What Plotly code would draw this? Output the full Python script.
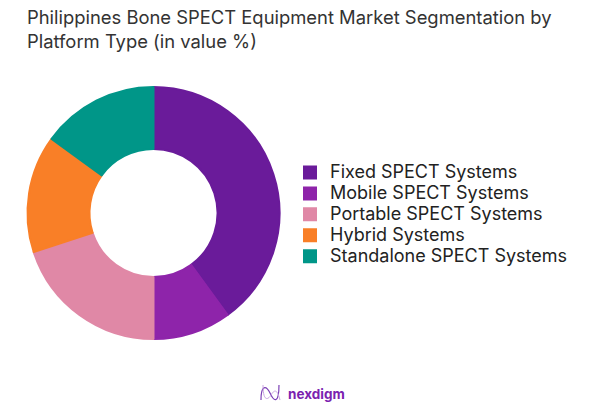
import plotly.graph_objects as go

labels = ["Fixed SPECT Systems", "Mobile SPECT Systems", "Portable SPECT Systems", "Hybrid Systems", "Standalone SPECT Systems"]
values = [40, 10, 20, 15, 15]
colors = ["#6A1B9A", "#8E24AA", "#E088A6", "#F97F27", "#009688"]
title = "Philippines Bone SPECT Equipment Market Segmentation by<br>Platform Type (in value %)"
W, H = 594, 414
OFF = 8  # page margin of the browser

def px(x):
    return (x - OFF) / W

def py(y):
    return 1 - (y - OFF) / H

def logo_path(points):
    (x0, y0), *rest = points
    d = f"M{px(x0):.4f},{py(y0):.4f}"
    for i in range(0, len(rest), 3):
        d += " C" + " ".join(f"{px(x):.4f},{py(y):.4f}" for x, y in rest[i:i+3])
    return d

legend_text = [f'<span style="font-size:18px">{t}</span>' for t in labels]

fig = go.Figure(go.Pie(labels=legend_text, values=values, hole=64/126, sort=False, direction="clockwise",
                       rotation=0, marker=dict(colors=colors, line=dict(color=colors, width=2)),
                       textinfo="none", hoverinfo="label+percent",
                       domain=dict(x=[px(27.5), px(279.5)], y=[py(339), py(87)])))
fig.update_layout(
    width=W, height=H, margin=dict(l=0, r=0, t=0, b=0), paper_bgcolor="white",
    font=dict(family="Inter", color="#333333"),
    title=dict(text=title, x=px(27), xanchor="left", y=py(24), yanchor="top", font=dict(size=18.4, color="#333333")),
    legend=dict(x=px(290), y=py(157), xanchor="left", yanchor="top", font=dict(size=13.8, color="#222222"), traceorder="normal", itemwidth=30),
    annotations=[dict(text="<b>nexdigm</b>", x=px(286), y=py(394), xref="paper", yref="paper", xanchor="left", yanchor="middle", showarrow=False, font=dict(size=13.5, color="#7B22B0"))],
    shapes=[
        dict(type="path", xref="paper", yref="paper", line=dict(color="#7B3FB5", width=1.2),
             path=logo_path([(261, 400), (261, 385), (266, 385), (270, 393), (274, 402), (279, 404), (279, 385)])),
        dict(type="path", xref="paper", yref="paper", line=dict(color="#C9A6E0", width=1),
             path=logo_path([(263, 385), (263, 402), (268, 400), (271, 395), (274, 390), (277, 388), (280, 400)])),
    ],
)
fig.write_html("out.html")
